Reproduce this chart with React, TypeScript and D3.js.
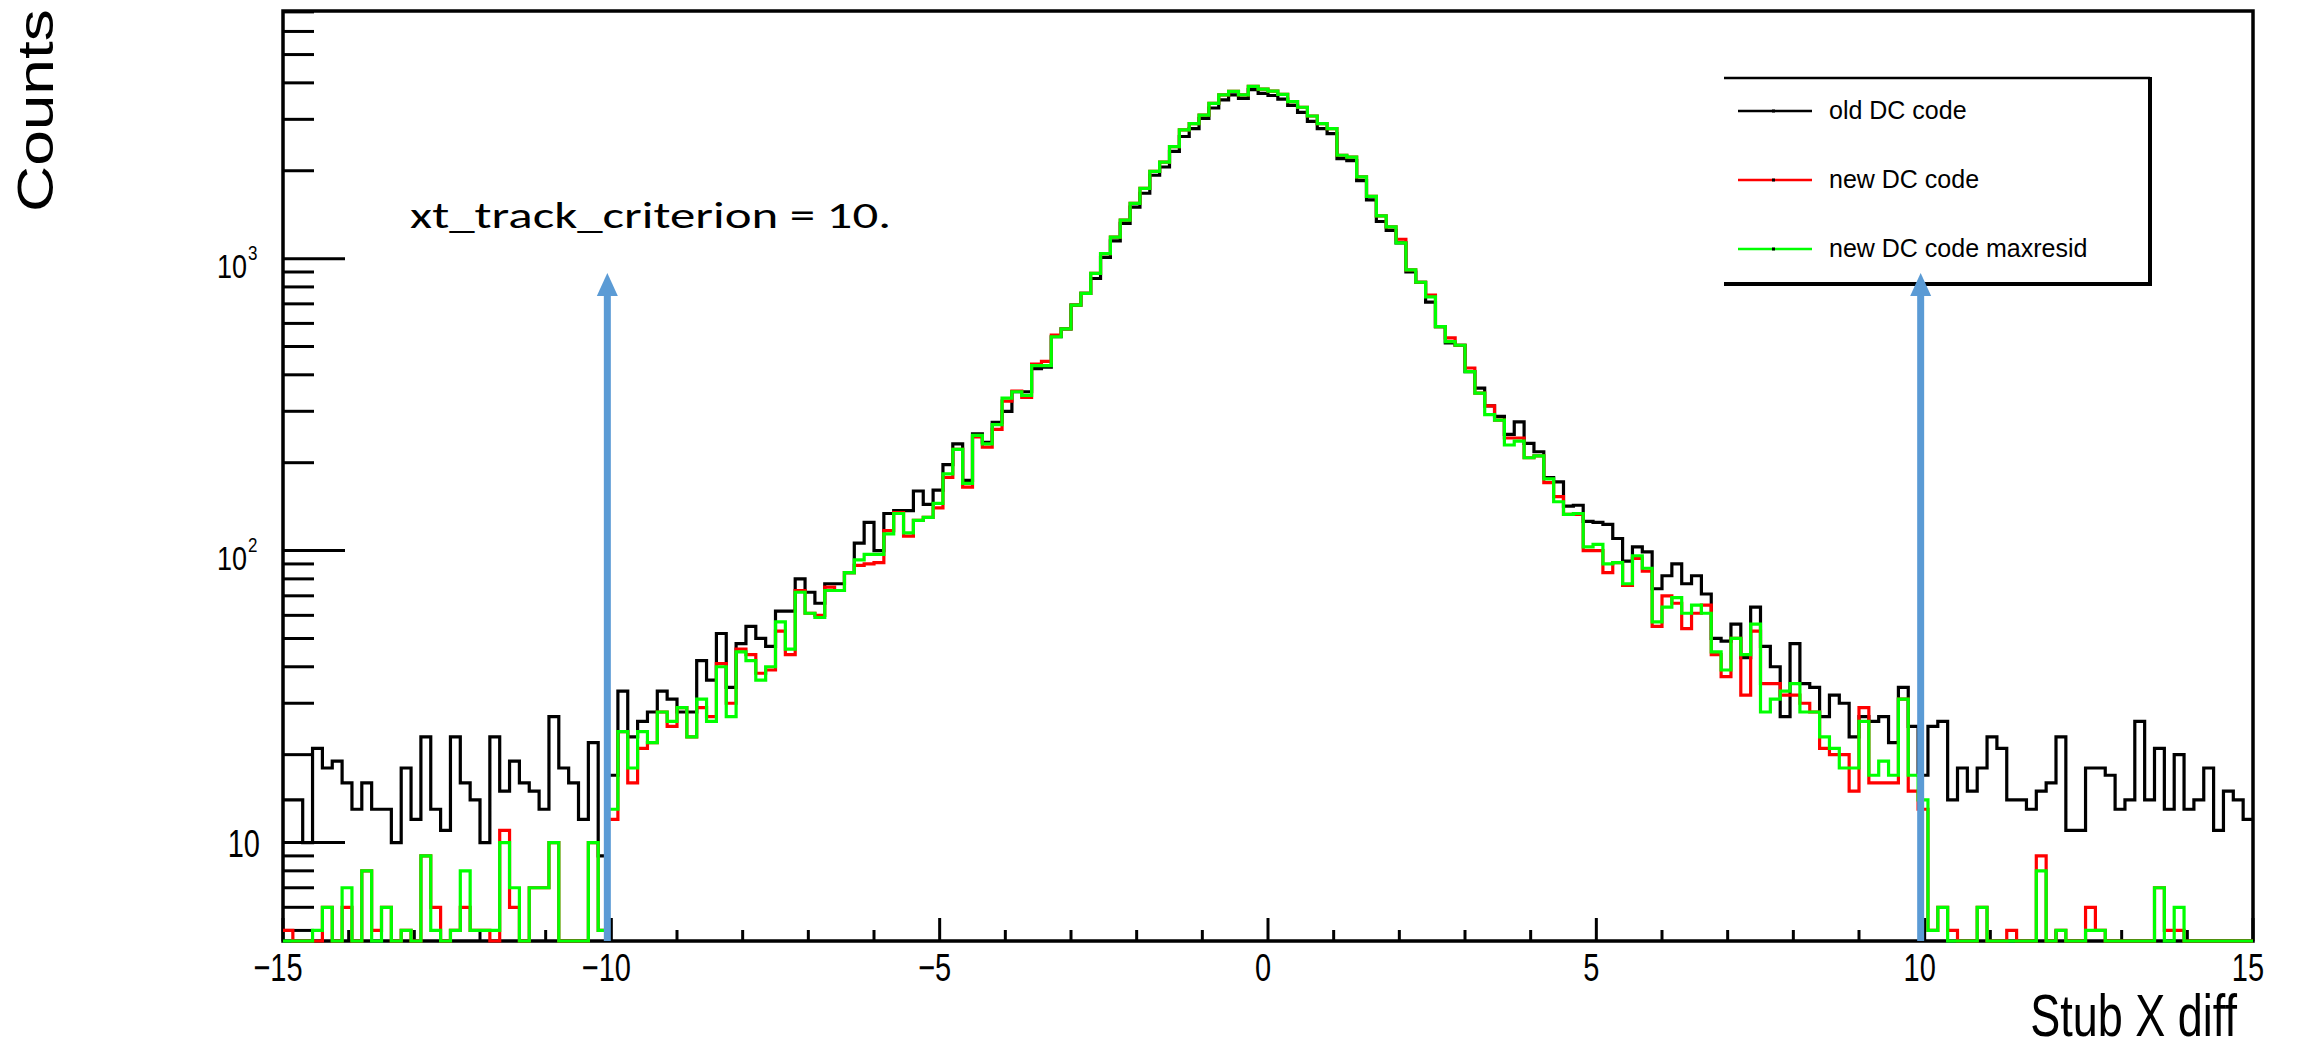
import React from 'react';
import * as d3 from 'd3';

// ---------------- data ----------------
const X_MIN = -15;
const X_MAX = 15;
const N_BINS = 200;
const Y_MIN = 4.6;
const Y_MAX = 7050;

// old DC code (black)
const oldDC = [
  14, 14, 10, 21, 18, 19, 16, 13, 16, 13,
  13, 10, 18, 12, 23, 13, 11, 23, 16, 14,
  10, 23, 15, 19, 16, 15, 13, 27, 18, 16,
  12, 22, 9, 17, 33, 23, 26, 28, 33, 31,
  28, 28, 42, 36, 52, 34, 48, 55, 50, 47,
  62, 62, 80, 72, 66, 77, 77, 84, 106, 125,
  100, 134, 137, 137, 160, 144, 161, 197, 232, 174,
  251, 235, 275, 300, 350, 350, 420, 425, 540, 575,
  693, 760, 855, 1010, 1150, 1320, 1500, 1675, 1930, 2060,
  2330, 2620, 2790, 3020, 3280, 3500, 3640, 3540, 3790, 3680,
  3620, 3520, 3350, 3170, 2950, 2790, 2680, 2200, 2166, 1850,
  1590, 1340, 1250, 1132, 900, 830, 710, 585, 514, 505,
  410, 360, 313, 288, 250, 276, 233, 218, 178, 172,
  142, 143, 126, 125, 123, 110, 92, 103, 99, 74,
  82, 90, 77, 82, 71, 50, 49, 56, 43, 64,
  47, 40, 27, 48, 35, 34, 27, 32, 30, 23,
  27, 26, 27, 22, 34, 25, 17, 25, 26, 14,
  18, 15, 18, 23, 21, 14, 14, 13, 15, 16,
  23, 11, 11, 18, 18, 17, 13, 14, 26, 14,
  21, 13, 20, 13, 14, 18, 11, 15, 14, 12,
];

// new DC code (red)
const newDC = [
  5, 0, 0, 0, 6, 0, 6, 0, 8, 5,
  6, 0, 5, 0, 9, 6, 0, 5, 6, 5,
  5, 0, 11, 6, 0, 7, 7, 10, 0, 0,
  0, 10, 5, 12, 24, 16, 21, 22, 28, 25,
  29, 23, 29, 27, 41, 30, 46, 44, 38, 39,
  53, 44, 73, 61, 60, 75, 73, 84, 89, 90,
  91, 117, 135, 112, 127, 130, 140, 178, 222, 165,
  245, 226, 260, 325, 352, 335, 435, 445, 547, 575,
  693, 760, 890, 1040, 1185, 1355, 1545, 1740, 1990, 2140,
  2420, 2760, 2900, 3100, 3400, 3640, 3740, 3640, 3890, 3806,
  3750, 3650, 3450, 3300, 3080, 2900, 2790, 2260, 2228, 1905,
  1633, 1400, 1285, 1165, 915, 830, 750, 585, 535, 505,
  422, 346, 313, 280, 243, 243, 208, 211, 171, 153,
  133, 133, 100, 100, 84, 91, 76, 94, 85, 55,
  70, 66, 54, 61, 65, 44, 37, 50, 32, 53,
  35, 35, 32, 32, 30, 28, 21, 20, 20, 15,
  29, 16, 16, 16, 31, 15, 13, 5, 6, 5,
  0, 0, 6, 0, 0, 5, 0, 0, 9, 0,
  5, 0, 0, 6, 5, 0, 0, 0, 0, 0,
  7, 5, 5, 0, 0, 0, 0, 0, 0, 0,
];

// new DC code maxresid (green)
const newDCMaxresid = [
  0, 0, 0, 5, 6, 0, 7, 0, 8, 0,
  6, 0, 5, 0, 9, 5, 0, 5, 8, 5,
  5, 5, 10, 7, 0, 7, 7, 10, 0, 0,
  0, 10, 5, 13, 24, 18, 24, 22, 28, 26,
  29, 23, 31, 26, 40, 27, 45, 42, 36, 40,
  57, 46, 72, 61, 59, 73, 73, 84, 93, 97,
  97, 114, 134, 115, 127, 130, 145, 183, 222, 170,
  248, 232, 270, 333, 350, 340, 430, 430, 540, 575,
  693, 760, 890, 1040, 1185, 1355, 1545, 1740, 1990, 2140,
  2420, 2760, 2900, 3100, 3400, 3640, 3740, 3640, 3890, 3806,
  3750, 3650, 3450, 3300, 3080, 2900, 2790, 2260, 2228, 1905,
  1633, 1400, 1285, 1132, 915, 830, 740, 585, 520, 505,
  410, 346, 292, 280, 230, 237, 208, 211, 176, 147,
  133, 134, 103, 105, 90, 91, 77, 96, 87, 57,
  64, 69, 61, 65, 61, 45, 39, 50, 44, 56,
  28, 31, 33, 35, 28, 28, 23, 21, 18, 18,
  26, 17, 19, 17, 31, 17, 14, 5, 6, 0,
  0, 0, 6, 0, 0, 0, 0, 0, 8, 0,
  5, 0, 0, 5, 5, 0, 0, 0, 0, 0,
  7, 0, 6, 0, 0, 0, 0, 0, 0, 0,
];

const xMajorTicks = [-15, -10, -5, 0, 5, 10, 15];
const xTickLabels = ['\u221215', '\u221210', '\u22125', '0', '5', '10', '15'];
const xMinorTicks = [-14, -13, -12, -11, -9, -8, -7, -6, -4, -3, -2, -1, 1, 2, 3, 4, 6, 7, 8, 9, 11, 12, 13, 14];
const yMajorTicks = [10, 100, 1000];
const yTickBase = ['10', '10', '10'];
const yTickExp = ['', '2', '3'];
const yMinorTicks = [5, 6, 7, 8, 9, 20, 30, 40, 50, 60, 70, 80, 90, 200, 300, 400, 500, 600, 700, 800, 900, 2000, 3000, 4000, 5000, 6000, 7000];
const cutPositions = [-10, 10];
const seriesNames = ['old DC code', 'new DC code', 'new DC code maxresid'];
const seriesColors = ['#000000', '#ff0000', '#00ff00'];
const annotationText = 'xt_track_criterion = 10.';
const xTitle = 'Stub X diff';
const yTitle = 'Counts';

const ROOT_FONT = '"Liberation Sans", Arial, Helvetica, sans-serif';

export default function App() {
  const W = 2297;
  const H = 1050;
  const plot = { left: 283, right: 2253, top: 11, bottom: 941 };

  const x = d3.scaleLinear().domain([X_MIN, X_MAX]).range([plot.left, plot.right]);
  const y = d3.scaleLog().domain([Y_MIN, Y_MAX]).range([plot.bottom, plot.top]);
  const binW = (X_MAX - X_MIN) / N_BINS;

  const stepPath = (vals: number[]) => {
    const pts: [number, number][] = vals.map((v, i) => [x(X_MIN + i * binW), y(Math.max(v, Y_MIN))]);
    pts.push([x(X_MAX), y(Math.max(vals[vals.length - 1], Y_MIN))]);
    return d3.line().curve(d3.curveStepAfter)(pts) || '';
  };

  const series = [oldDC, newDC, newDCMaxresid];
  const VS = 1.35; // vertical stretch of ROOT texts

  const legend = { left: 1724, right: 2150, top: 78, bottom: 284 };
  const legendRowY = [111, 180, 249];

  const arrowTip = 273;
  const arrowBase = 296;

  return (
    <svg
      width={W}
      height={H}
      viewBox={`0 0 ${W} ${H}`}
      style={{ position: 'absolute', left: 0, top: 0, background: '#fff' }}
    >
      <rect x={0} y={0} width={W} height={H} fill="#fff" />

      {/* frame */}
      <rect
        x={plot.left}
        y={plot.top}
        width={plot.right - plot.left}
        height={plot.bottom - plot.top}
        fill="none"
        stroke="#000"
        strokeWidth={3.5}
      />

      {/* y ticks */}
      {yMajorTicks.map((t) => (
        <line key={'ym' + t} x1={plot.left} x2={plot.left + 62} y1={y(t)} y2={y(t)} stroke="#000" strokeWidth={3} />
      ))}
      {yMinorTicks.map((t) => (
        <line key={'yn' + t} x1={plot.left} x2={plot.left + 31} y1={y(t)} y2={y(t)} stroke="#000" strokeWidth={3} />
      ))}

      {/* x ticks */}
      {xMajorTicks.map((t) => (
        <line key={'xm' + t} x1={x(t)} x2={x(t)} y1={plot.bottom} y2={plot.bottom - 23} stroke="#000" strokeWidth={3} />
      ))}
      {xMinorTicks.map((t) => (
        <line key={'xn' + t} x1={x(t)} x2={x(t)} y1={plot.bottom} y2={plot.bottom - 11} stroke="#000" strokeWidth={3} />
      ))}

      {/* histograms */}
      {series.map((vals, k) => (
        <path key={'h' + k} d={stepPath(vals)} fill="none" stroke={seriesColors[k]} strokeWidth={3.2} strokeLinejoin="miter" />
      ))}

      {/* x tick labels */}
      {xMajorTicks.map((t, i) => (
        <text
          key={'xl' + t}
          transform={`translate(${x(t) - 5},981) scale(1,${VS})`}
          textAnchor="middle"
          fontFamily={ROOT_FONT}
          fontSize={29}
          fill="#000"
        >
          {xTickLabels[i]}
        </text>
      ))}

      {/* y tick labels */}
      {yMajorTicks.map((t, i) =>
        yTickExp[i] === '' ? (
          <text
            key={'yl' + t}
            transform={`translate(260,${y(t) + 14}) scale(1,${VS})`}
            textAnchor="end"
            fontFamily={ROOT_FONT}
            fontSize={29}
            fill="#000"
          >
            {yTickBase[i]}
          </text>
        ) : (
          <g key={'yl' + t}>
            <text
              transform={`translate(247,${y(t) + 19}) scale(1,1.2)`}
              textAnchor="end"
              fontFamily={ROOT_FONT}
              fontSize={27}
              fill="#000"
            >
              {yTickBase[i]}
            </text>
            <text
              transform={`translate(248,${y(t) + 1}) scale(1,1.2)`}
              textAnchor="start"
              fontFamily={ROOT_FONT}
              fontSize={17}
              fill="#000"
            >
              {yTickExp[i]}
            </text>
          </g>
        )
      )}

      {/* axis titles */}
      <text
        transform={`translate(2237,1036) scale(1,1.3)`}
        textAnchor="end"
        fontFamily={ROOT_FONT}
        fontSize={45}
        fill="#000"
      >
        {xTitle}
      </text>
      <text
        transform="translate(53,212) rotate(-90) scale(1.28,1)"
        textAnchor="start"
        fontFamily={ROOT_FONT}
        fontSize={50}
        fill="#000"
      >
        {yTitle}
      </text>

      {/* legend */}
      <rect x={legend.left} y={legend.top} width={legend.right - legend.left} height={legend.bottom - legend.top} fill="#fff" stroke="none" />
      <line x1={legend.left} x2={legend.right} y1={legend.top} y2={legend.top} stroke="#000" strokeWidth={2.5} />
      <line x1={legend.left} x2={legend.right + 2} y1={legend.bottom} y2={legend.bottom} stroke="#000" strokeWidth={4} />
      <line x1={legend.right} x2={legend.right} y1={legend.top - 1} y2={legend.bottom} stroke="#000" strokeWidth={4} />
      {seriesNames.map((name, k) => (
        <g key={'lg' + k}>
          <line x1={1738} x2={1812} y1={legendRowY[k]} y2={legendRowY[k]} stroke={seriesColors[k]} strokeWidth={2.5} />
          <rect x={1772} y={legendRowY[k] - 1.5} width={3} height={3} fill="#000" />
          <text
            x={1829}
            y={legendRowY[k] + 8}
            fontFamily={ROOT_FONT}
            fontSize={25}
            fill="#000"
          >
            {name}
          </text>
        </g>
      ))}

      {/* annotation */}
      <text
        x={410}
        y={228}
        fontFamily='Carlito, Calibri, Lato, "Open Sans", sans-serif'
        fontSize={36}
        textLength={481}
        lengthAdjust="spacingAndGlyphs"
        fill="#000"
      >
        {annotationText}
      </text>

      {/* blue cut arrows */}
      {cutPositions.map((c) => {
        const cx = x(c) - 4;
        return (
          <g key={'arr' + c}>
            <line x1={cx} x2={cx} y1={plot.bottom} y2={arrowBase - 1} stroke="#5b9bd5" strokeWidth={7} />
            <path d={`M${cx},${arrowTip} L${cx - 10.5},${arrowBase} L${cx + 10.5},${arrowBase} Z`} fill="#5b9bd5" />
          </g>
        );
      })}
    </svg>
  );
}
